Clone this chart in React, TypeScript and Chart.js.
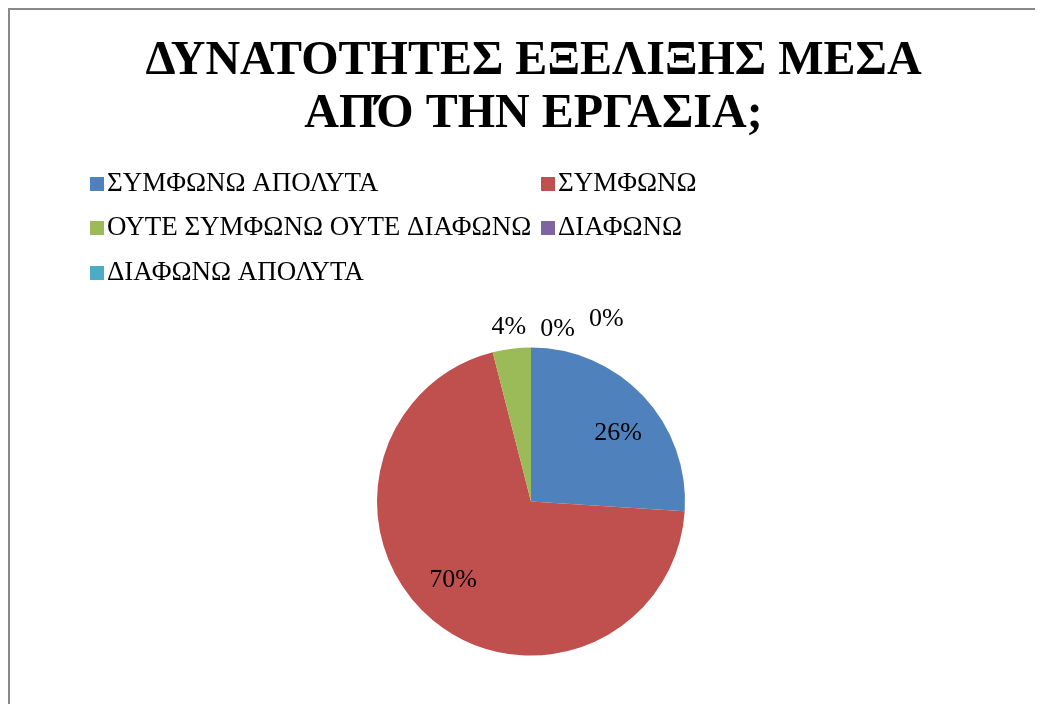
import React, { useEffect, useRef } from "react";
import { Chart, registerables } from "chart.js";

Chart.register(...registerables);

const titleLines = ["ΔΥΝΑΤΟΤΗΤΕΣ ΕΞΕΛΙΞΗΣ ΜΕΣΑ", "ΑΠΌ ΤΗΝ ΕΡΓΑΣΙΑ;"];
const categories = [
  "ΣΥΜΦΩΝΩ ΑΠΟΛΥΤΑ",
  "ΣΥΜΦΩΝΩ",
  "ΟΥΤΕ ΣΥΜΦΩΝΩ ΟΥΤΕ ΔΙΑΦΩΝΩ",
  "ΔΙΑΦΩΝΩ",
  "ΔΙΑΦΩΝΩ ΑΠΟΛΥΤΑ",
];
const shares = [26, 70, 4, 0, 0];
const colors = ["#4F81BD", "#C0504D", "#9BBB59", "#8064A2", "#4BACC6"];

const SERIF = '"Liberation Serif", "Times New Roman", serif';

// Title, grid legend and percentage labels drawn on the canvas
const decorations = {
  id: "decorations",
  afterDatasetsDraw(chart: any) {
    const ctx = chart.ctx as CanvasRenderingContext2D;
    ctx.save();

    // title
    ctx.fillStyle = "#000";
    ctx.textAlign = "center";
    ctx.textBaseline = "alphabetic";
    ctx.font = `bold 48px ${SERIF}`;
    ctx.fillText(titleLines[0], 523.5, 64);
    ctx.fillText(titleLines[1], 523.5, 117);

    // legend: two columns
    ctx.font = `27px ${SERIF}`;
    ctx.textAlign = "left";
    ctx.textBaseline = "middle";
    const colX = [80, 531];
    const rowY = [173, 217, 262];
    categories.forEach((name, i) => {
      const x = colX[i % 2];
      const y = rowY[Math.floor(i / 2)];
      ctx.fillStyle = colors[i];
      ctx.fillRect(x, y - 6, 14, 14);
      ctx.fillStyle = "#000";
      ctx.fillText(name, x + 17, y + 1);
    });

    // percentage labels
    const meta = chart.getDatasetMeta(0);
    const total = shares.reduce((a, b) => a + b, 0);
    ctx.font = `26px ${SERIF}`;
    ctx.textAlign = "center";
    ctx.textBaseline = "middle";
    let prevRight = -Infinity;
    let pushedCount = 0;
    meta.data.forEach((arc: any, i: number) => {
      const { x, y, startAngle, endAngle, outerRadius } = arc.getProps(
        ["x", "y", "startAngle", "endAngle", "outerRadius"],
        true
      );
      const pct = Math.round((shares[i] / total) * 100);
      const text = `${pct}%`;
      const mid = (startAngle + endAngle) / 2;
      const w = ctx.measureText(text).width;
      ctx.fillStyle = "#000";
      if (shares[i] / total > 0.1) {
        const r = outerRadius * 0.72;
        const a = mid + 0.087;
        ctx.fillText(text, x + Math.cos(a) * r, y + Math.sin(a) * r);
      } else {
        const r = outerRadius + 22;
        let lx = x + Math.cos(mid) * r;
        let ly = y + Math.sin(mid) * r;
        if (lx - w / 2 < prevRight + 14) {
          lx = prevRight + 14 + w / 2;
          ly += pushedCount === 0 ? 4 : -6;
          pushedCount++;
        }
        ctx.fillText(text, lx, ly);
        prevRight = lx + w / 2;
      }
    });
    ctx.restore();
  },
};

export default function App() {
  const canvasRef = useRef<HTMLCanvasElement | null>(null);

  useEffect(() => {
    document.documentElement.style.overflow = "hidden";
    document.body.style.overflow = "hidden";
    if (!canvasRef.current) return;
    const chart = new Chart(canvasRef.current, {
      type: "pie",
      data: {
        labels: categories,
        datasets: [
          {
            data: shares,
            backgroundColor: colors,
            borderWidth: 0,
          },
        ],
      },
      options: {
        animation: false,
        responsive: true,
        maintainAspectRatio: false,
        events: [],
        layout: { padding: { top: 337.5, bottom: 48.5, left: 9, right: 0 } },
        plugins: {
          legend: { display: false },
          title: { display: false },
          tooltip: { enabled: false },
        },
      },
      plugins: [decorations],
    });
    return () => chart.destroy();
  }, []);

  return (
    <div
      style={{
        width: 1035,
        height: 696,
        boxSizing: "border-box",
        borderTop: "2px solid #888",
        borderLeft: "2px solid #888",
        background: "#fff",
        overflow: "hidden",
      }}
    >
      <div style={{ position: "relative", width: 1033, height: 694 }}>
        <canvas ref={canvasRef} />
      </div>
    </div>
  );
}
